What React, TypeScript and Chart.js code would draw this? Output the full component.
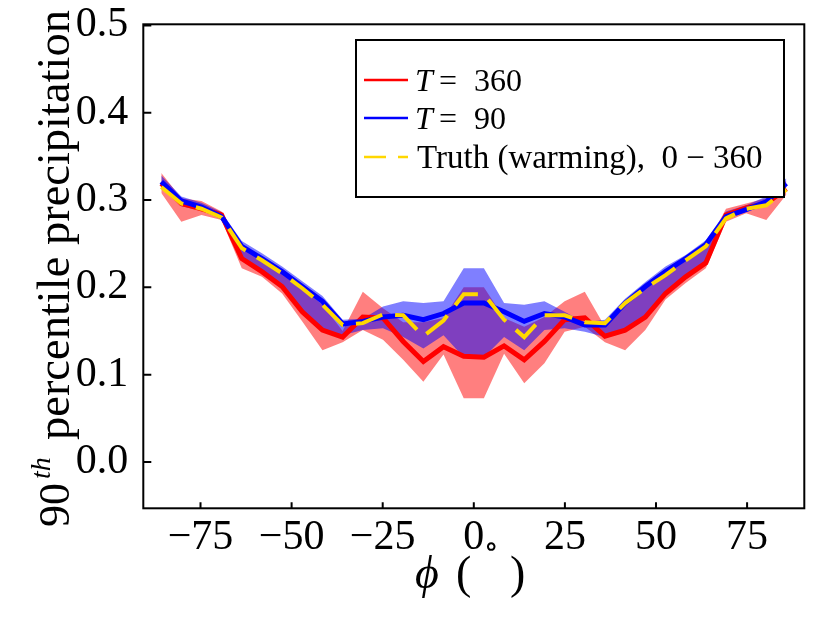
import { useEffect, useRef } from "react"
import { Chart, registerables } from "chart.js"

Chart.register(...registerables)

// Gaussian latitudes (degrees)
const latitudes = [
  -85.76, -80.27, -74.74, -69.21, -63.68, -58.14, -52.61, -47.07, -41.53, -36.0, -30.46, -24.92, -19.38, -13.84, -8.31,
  -2.77, 2.77, 8.31, 13.84, 19.38, 24.92, 30.46, 36.0, 41.53, 47.07, 52.61, 58.14, 63.68, 69.21, 74.74, 80.27, 85.76,
]

// T = 360
const t360 = [
  0.319, 0.296, 0.29, 0.283, 0.233, 0.218, 0.201, 0.172, 0.151, 0.143, 0.166, 0.165, 0.138, 0.115, 0.132, 0.121, 0.12,
  0.133, 0.117, 0.138, 0.163, 0.165, 0.144, 0.151, 0.166, 0.193, 0.212, 0.228, 0.283, 0.291, 0.296, 0.313,
]
const t360Low = [
  0.308, 0.275, 0.283, 0.277, 0.222, 0.212, 0.193, 0.161, 0.128, 0.137, 0.151, 0.14, 0.117, 0.092, 0.123, 0.073, 0.073,
  0.124, 0.09, 0.113, 0.149, 0.155, 0.137, 0.128, 0.151, 0.186, 0.205, 0.222, 0.275, 0.285, 0.277, 0.306,
]
const t360High = [
  0.331, 0.302, 0.299, 0.287, 0.245, 0.231, 0.216, 0.199, 0.18, 0.15, 0.195, 0.176, 0.16, 0.16, 0.165, 0.2, 0.2, 0.165,
  0.155, 0.166, 0.184, 0.195, 0.155, 0.18, 0.199, 0.216, 0.231, 0.247, 0.29, 0.296, 0.302, 0.322,
]

// T = 90
const t90 = [
  0.321, 0.299, 0.292, 0.281, 0.247, 0.233, 0.218, 0.201, 0.184, 0.158, 0.161, 0.166, 0.168, 0.163, 0.17, 0.182, 0.182,
  0.172, 0.161, 0.17, 0.166, 0.157, 0.157, 0.182, 0.201, 0.218, 0.233, 0.249, 0.281, 0.289, 0.298, 0.319,
]
const t90Low = [
  0.315, 0.293, 0.288, 0.279, 0.233, 0.218, 0.201, 0.172, 0.151, 0.145, 0.151, 0.153, 0.143, 0.13, 0.145, 0.12, 0.12,
  0.143, 0.128, 0.151, 0.153, 0.149, 0.143, 0.151, 0.166, 0.193, 0.212, 0.228, 0.279, 0.287, 0.293, 0.313,
]
const t90High = [
  0.328, 0.304, 0.297, 0.286, 0.253, 0.239, 0.224, 0.207, 0.19, 0.163, 0.164, 0.178, 0.184, 0.182, 0.184, 0.222, 0.222,
  0.182, 0.18, 0.184, 0.172, 0.16, 0.163, 0.187, 0.206, 0.224, 0.237, 0.254, 0.287, 0.294, 0.304, 0.325,
]

// Truth (warming), 0 - 360
const truth = [
  0.315, 0.296, 0.29, 0.28, 0.245, 0.231, 0.216, 0.199, 0.18, 0.157, 0.159, 0.169, 0.168, 0.144, 0.162, 0.192, 0.192,
  0.163, 0.143, 0.168, 0.168, 0.16, 0.159, 0.182, 0.199, 0.214, 0.231, 0.247, 0.279, 0.29, 0.294, 0.312,
]

const xTicks = [-75, -50, -25, 0, 25, 50, 75]
const yTicks = [0.0, 0.1, 0.2, 0.3, 0.4, 0.5]
const seriesLabels = ["360", "90", "Truth (warming),  0 − 360"]

const RED = "rgb(255, 0, 0)"
const BLUE = "rgb(0, 0, 255)"
const GOLD = "rgb(255, 215, 0)"
const SERIF = '"Liberation Serif", "DejaVu Serif", serif'

const pts = (ys: number[]) => latitudes.map((x, i) => ({ x, y: ys[i] }))

const decorations = {
  id: "decorations",
  afterDraw(chart: any) {
    const { ctx, chartArea: a, scales } = chart
    ctx.save()
    ctx.strokeStyle = "#000"
    ctx.fillStyle = "#000"
    ctx.lineWidth = 2

    // inward tick marks
    ctx.beginPath()
    for (const v of xTicks) {
      const px = scales.x.getPixelForValue(v)
      ctx.moveTo(px, a.bottom)
      ctx.lineTo(px, a.bottom - 6)
    }
    for (const v of yTicks) {
      const py = scales.y.getPixelForValue(v)
      ctx.moveTo(a.left, py)
      ctx.lineTo(a.left + 8, py)
    }
    ctx.stroke()
    ctx.strokeRect(a.left, a.top, a.right - a.left, a.bottom - a.top)

    // y axis label: 90^th percentile precipitation
    ctx.save()
    ctx.translate(69, 527)
    ctx.rotate(-Math.PI / 2)
    ctx.textAlign = "left"
    ctx.textBaseline = "alphabetic"
    ctx.font = `44px ${SERIF}`
    ctx.fillText("90", 0, 0)
    ctx.font = `italic 28px ${SERIF}`
    ctx.fillText("th", 48, -19)
    ctx.font = `46px ${SERIF}`
    const main = "percentile precipitation"
    const w = ctx.measureText(main).width
    const size = (46 * 430) / w
    ctx.font = `${size.toFixed(1)}px ${SERIF}`
    ctx.fillText(main, 87, 0)
    ctx.restore()

    // x axis label: phi ( deg )
    ctx.textBaseline = "alphabetic"
    ctx.textAlign = "left"
    ctx.font = `italic 46px ${SERIF}`
    ctx.fillText("ϕ", 415, 588)
    ctx.font = `46px ${SERIF}`
    ctx.fillText("(", 456, 588)
    ctx.fillText(")", 510, 588)
    ctx.font = `30px "DejaVu Serif", serif`
    ctx.textAlign = "center"
    ctx.fillText("∘", 491, 556)

    // legend
    const bx = 356
    const by = 40
    ctx.fillStyle = "#fff"
    ctx.fillRect(bx, by, 428, 157)
    ctx.strokeStyle = "#000"
    ctx.lineWidth = 2
    ctx.strokeRect(bx, by, 428, 157)
    const rows = [
      { color: RED, dash: [] as number[], y: 80 },
      { color: BLUE, dash: [] as number[], y: 118 },
      { color: GOLD, dash: [22, 12], y: 157 },
    ]
    rows.forEach((r) => {
      ctx.strokeStyle = r.color
      ctx.lineWidth = 2.5
      ctx.setLineDash(r.dash)
      ctx.beginPath()
      ctx.moveTo(364, r.y)
      ctx.lineTo(408, r.y)
      ctx.stroke()
    })
    ctx.setLineDash([])
    ctx.fillStyle = "#000"
    ctx.textAlign = "left"
    const tLabel = (rest: string, y: number) => {
      ctx.font = `italic 32px ${SERIF}`
      ctx.fillText("T", 415, y)
      ctx.font = `32px ${SERIF}`
      ctx.fillText("=", 439, y)
      ctx.fillText(rest, 474, y)
    }
    tLabel(seriesLabels[0], 91)
    tLabel(seriesLabels[1], 129)
    ctx.font = `33px ${SERIF}`
    ctx.fillText(seriesLabels[2], 417, 168)
    ctx.restore()
  },
}

export default function App() {
  const chartRef = useRef<HTMLCanvasElement>(null)
  const chartInstance = useRef<Chart | null>(null)

  useEffect(() => {
    if (!chartRef.current) return
    if (chartInstance.current) chartInstance.current.destroy()
    const ctx = chartRef.current.getContext("2d")
    if (!ctx) return

    const base = { pointRadius: 0, tension: 0, showLine: true }

    chartInstance.current = new Chart(ctx, {
      type: "line",
      data: {
        datasets: [
          // red ribbon
          { ...base, data: pts(t360Low), borderWidth: 0, fill: false, order: 5 },
          { ...base, data: pts(t360High), borderWidth: 0, fill: "-1", backgroundColor: "rgba(255, 0, 0, 0.5)", order: 5 },
          // blue ribbon
          { ...base, data: pts(t90Low), borderWidth: 0, fill: false, order: 4 },
          { ...base, data: pts(t90High), borderWidth: 0, fill: "-1", backgroundColor: "rgba(0, 0, 255, 0.5)", order: 4 },
          { ...base, label: "T = 360", data: pts(t360), borderColor: RED, borderWidth: 5, fill: false, order: 3 },
          { ...base, label: "T = 90", data: pts(t90), borderColor: BLUE, borderWidth: 5, fill: false, order: 2 },
          {
            ...base,
            label: "Truth (warming), 0 − 360",
            data: pts(truth),
            borderColor: GOLD,
            borderWidth: 4,
            borderDash: [28, 13],
            fill: false,
            order: 1,
          },
        ] as any,
      },
      options: {
        animation: false,
        responsive: true,
        maintainAspectRatio: false,
        layout: { padding: { left: 0, right: 25.7, top: 24.3, bottom: 0 } },
        plugins: { legend: { display: false }, tooltip: { enabled: false } },
        scales: {
          x: {
            type: "linear",
            min: -90.7,
            max: 90.7,
            grid: { display: false, drawTicks: false },
            border: { display: false },
            afterFit: (s: any) => {
              s.height = 114.7
              s.paddingLeft = 0
              s.paddingRight = 0
            },
            afterBuildTicks: (s: any) => {
              s.ticks = xTicks.map((value) => ({ value }))
            },
            ticks: {
              autoSkip: false,
              maxRotation: 0,
              padding: 9,
              color: "#000",
              font: { family: SERIF, size: 42, lineHeight: 1 },
              callback: (v: any) => String(v).replace("-", "−"),
            },
          },
          y: {
            type: "linear",
            min: -0.0531,
            max: 0.5013,
            grid: { display: false, drawTicks: false },
            border: { display: false },
            afterFit: (s: any) => {
              s.width = 143.3
              s.paddingTop = 0
              s.paddingBottom = 0
            },
            afterBuildTicks: (s: any) => {
              s.ticks = yTicks.map((value) => ({ value }))
            },
            ticks: {
              padding: 15,
              color: "#000",
              font: { family: SERIF, size: 42, lineHeight: 1 },
              callback: (v: any) => Number(v).toFixed(1),
            },
          },
        },
      },
      plugins: [decorations],
    })

    return () => {
      if (chartInstance.current) {
        chartInstance.current.destroy()
        chartInstance.current = null
      }
    }
  }, [])

  return (
    <div style={{ position: "absolute", left: 0, top: 0, width: 830, height: 623, background: "#fff" }}>
      <canvas ref={chartRef} />
    </div>
  )
}
